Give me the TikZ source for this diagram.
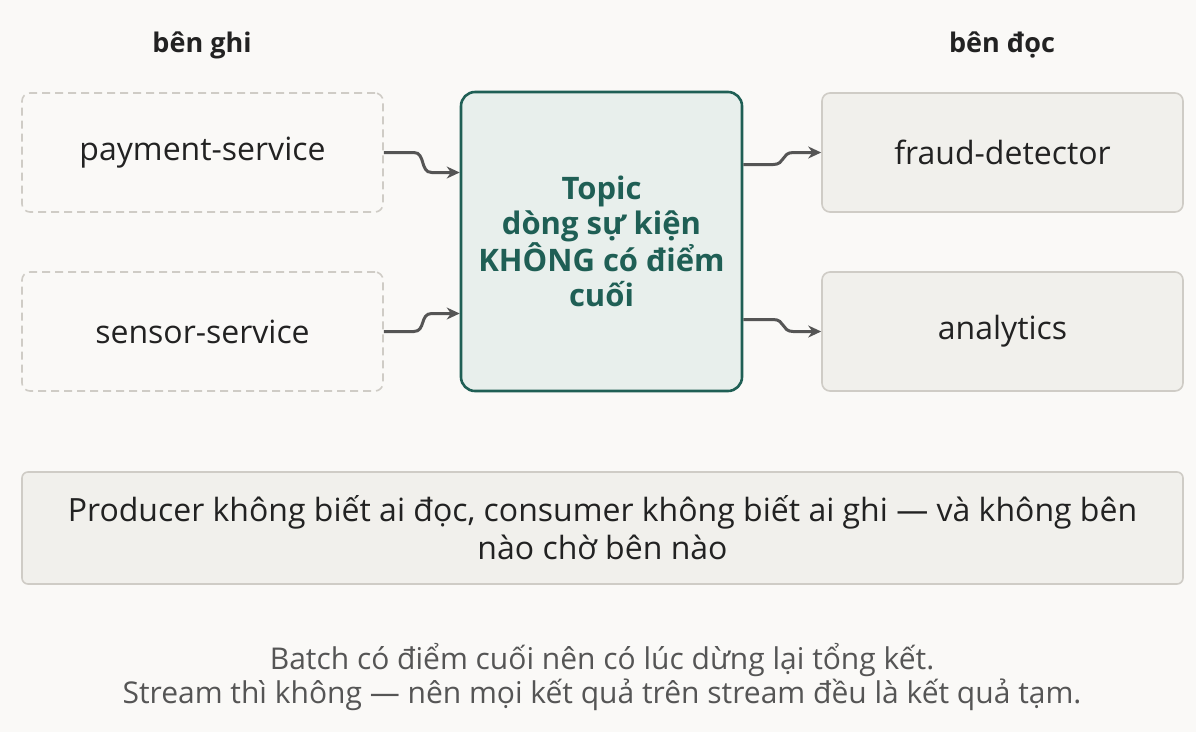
\documentclass[tikz,border=0pt]{standalone}
\usepackage{fontspec}
\setmainfont{Open Sans}
\usetikzlibrary{arrows.meta}
\definecolor{bgc}{HTML}{FAF9F7}
\definecolor{teal}{HTML}{1F5F55}
\definecolor{tealfill}{HTML}{E8EFEC}
\definecolor{greyfill}{HTML}{F1F0EC}
\definecolor{greyline}{HTML}{CFCCC6}
\definecolor{ink}{HTML}{222222}
\definecolor{muted}{HTML}{555555}
\tikzset{
  writer/.style={draw=greyline, dashed, dash pattern=on 8pt off 5pt, line width=1.6pt, rounded corners=8pt, minimum width=361pt, minimum height=119pt, font=\fontsize{32}{36}\selectfont, text=ink},
  reader/.style={draw=greyline, fill=greyfill, line width=1.6pt, rounded corners=8pt, minimum width=361pt, minimum height=119pt, font=\fontsize{32}{36}\selectfont, text=ink},
  flow/.style={draw=muted, line width=3pt, -{Stealth[length=13pt,width=12pt]}},
  side/.style={font=\bfseries\fontsize{27}{30}\selectfont, text=ink}
}
\begin{document}
\begin{tikzpicture}[x=1pt,y=-1pt]
\fill[bgc] (0,0) rectangle (1196,732);
\useasboundingbox (0,0) rectangle (1196,732);

\node[side] (wlabel) at (202,45) {bên ghi};
\node[side] (rlabel) at (1002,45) {bên đọc};

\node[writer] (pay) at (202.5,152.5) {payment-service};
\node[writer] (sensor) at (202.5,331.5) {sensor-service};
\node[draw=teal, fill=tealfill, line width=2.6pt, rounded corners=14pt, minimum width=281pt, minimum height=299pt, align=center, text=teal, font=\bfseries\fontsize{31}{35}\selectfont] (topic) at (601.5,241.5) {Topic\\dòng sự kiện\\KHÔNG có điểm\\cuối};
\node[reader] (fraud) at (1002.5,152.5) {fraud-detector};
\node[reader] (analytics) at (1002.5,331.5) {analytics};

\node[draw=greyline, fill=greyfill, line width=1.6pt, rounded corners=6pt, minimum width=1161pt, minimum height=112pt, align=center, text=ink, font=\fontsize{32}{38}\selectfont] (note) at (602.5,528) {Producer không biết ai đọc, consumer không biết ai ghi — và không bên\\nào chờ bên nào};

\node[align=center, text=muted, font=\fontsize{30}{34}\selectfont] (caption) at (602,677) {Batch có điểm cuối nên có lúc dừng lại tổng kết.\\Stream thì không — nên mọi kết quả trên stream đều là kết quả tạm.};

\draw[flow] (pay.east) -- +(30,0) .. controls +(12,0) and +(-12,0) .. ([yshift=-20pt,xshift=-28pt]topic.west |- pay.east) -- ([yshift=-20pt]topic.west |- pay.east);
\draw[flow] (sensor.east) -- +(30,0) .. controls +(12,0) and +(-12,0) .. ([yshift=18pt,xshift=-28pt]topic.west |- sensor.east) -- ([yshift=18pt]topic.west |- sensor.east);
\draw[flow] ([yshift=-12pt]topic.east |- fraud.west) -- +(30,0) .. controls +(12,0) and +(-12,0) .. ([xshift=-28pt]fraud.west) -- (fraud.west);
\draw[flow] ([yshift=12pt]topic.east |- analytics.west) -- +(30,0) .. controls +(12,0) and +(-12,0) .. ([xshift=-28pt]analytics.west) -- (analytics.west);
\end{tikzpicture}
\end{document}
